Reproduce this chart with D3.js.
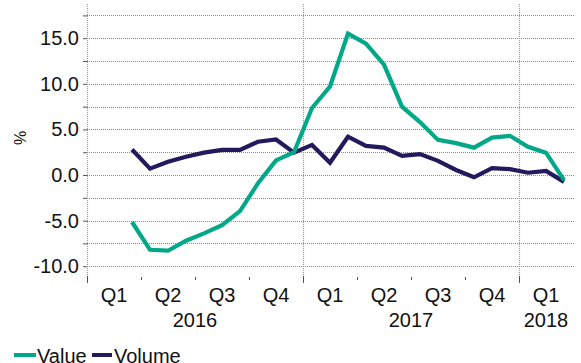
<!DOCTYPE html>
<html>
<head>
<meta charset="utf-8">
<script src="https://cdn.jsdelivr.net/npm/d3@7"></script>
<style>
  html, body { margin: 0; padding: 0; background: #fff; }
  svg { display: block; font-family: "Liberation Sans", Arial, sans-serif; }
</style>
</head>
<body>
<svg id="chart" width="581" height="363"></svg>
<script>
// Monthly growth rates, March 2016 to March 2018 (% year on year)
const months = ["2016-03","2016-04","2016-05","2016-06","2016-07","2016-08","2016-09","2016-10","2016-11","2016-12",
  "2017-01","2017-02","2017-03","2017-04","2017-05","2017-06","2017-07","2017-08","2017-09","2017-10","2017-11","2017-12",
  "2018-01","2018-02","2018-03"];
const valueSeries = [-5.15, -8.2, -8.3, -7.2, -6.4, -5.5, -3.95, -0.9, 1.6, 2.5,
  7.35, 9.7, 15.5, 14.4, 12.1, 7.5, 5.8, 3.85, 3.5, 3.0, 4.1, 4.3,
  3.1, 2.45, -0.55];
const volumeSeries = [2.8, 0.7, 1.45, 2.0, 2.45, 2.75, 2.75, 3.65, 3.9, 2.45,
  3.3, 1.35, 4.2, 3.2, 3.0, 2.1, 2.3, 1.55, 0.55, -0.25, 0.75, 0.65,
  0.25, 0.45, -0.75];
const quarterLabels = ["Q1","Q2","Q3","Q4","Q1","Q2","Q3","Q4","Q1"];
const yearLabels = ["2016","2017","2018"];
const yGridTicks = [-10, -7.5, -5, -2.5, 0, 2.5, 5, 7.5, 10, 12.5, 15, 17.5];
const colors = { Value: "#00a887", Volume: "#221a5c" };

const svg = d3.select("#chart");
const plotLeft = 87, plotRight = 575, plotTop = 4, plotBottom = 282;
const startYear = 2016;                         // axis starts at January 2016
const nMonths = 27;                             // through March 2018

// month index (0 = Jan 2016) -> x
const x = d3.scaleLinear().domain([0, nMonths]).range([plotLeft, plotLeft + nMonths * 18]);
const y = d3.scaleLinear().domain([-11.73, 18.75]).range([plotBottom, plotTop]);

function monthIndex(s) {
  const [yy, mm] = s.split("-").map(Number);
  return (yy - startYear) * 12 + (mm - 1);
}

// horizontal grid
svg.append("g").selectAll("line").data(yGridTicks).join("line")
  .attr("x1", plotLeft).attr("x2", plotRight)
  .attr("y1", d => Math.round(y(d)) + 0.5).attr("y2", d => Math.round(y(d)) + 0.5)
  .attr("stroke", "#8a8a8a").attr("stroke-width", 1).attr("stroke-dasharray", "1,1");

// y ticks and labels
const yAxis = d3.axisLeft(y).tickValues(yGridTicks).tickSize(4)
  .tickFormat(d => d % 5 === 0 ? d.toFixed(1) : "");
const gy = svg.append("g").attr("transform", `translate(${plotLeft},0)`).call(yAxis);
gy.select(".domain").remove();
gy.selectAll(".tick line").attr("stroke", "#555").attr("stroke-width", 1);
gy.selectAll(".tick text").attr("font-size", 20).attr("fill", "#111")
  .attr("x", -8).attr("font-family", "Liberation Sans, Arial, sans-serif");

// vertical dotted lines: left axis and year boundaries
const yearBounds = [0, 12, 24];
svg.append("g").selectAll("line").data(yearBounds).join("line")
  .attr("x1", d => x(d) + 0.5).attr("x2", d => x(d) + 0.5)
  .attr("y1", plotTop).attr("y2", plotBottom)
  .attr("stroke", "#9a9a9a").attr("stroke-width", 1.2).attr("stroke-dasharray", "1,1");

// x axis ticks (quarters small, years longer)
const quarterBounds = d3.range(3, nMonths, 3).filter(d => d % 12 !== 0);
svg.append("g").selectAll("line").data(quarterBounds).join("line")
  .attr("x1", d => x(d) + 0.5).attr("x2", d => x(d) + 0.5)
  .attr("y1", 277).attr("y2", 280)
  .attr("stroke", "#555").attr("stroke-width", 1);
svg.append("g").selectAll("line").data(yearBounds).join("line")
  .attr("x1", d => x(d) + 0.5).attr("x2", d => x(d) + 0.5)
  .attr("y1", 276).attr("y2", 283)
  .attr("stroke", "#555").attr("stroke-width", 1);

// quarter labels
svg.append("g").selectAll("text").data(quarterLabels).join("text")
  .attr("x", (d, i) => x(i * 3 + 1.5))
  .attr("y", 302)
  .attr("text-anchor", "middle").attr("font-size", 20).attr("fill", "#111")
  .text(d => d);

// year labels, centred on the quarters shown for each year
svg.append("g").selectAll("text").data(yearLabels).join("text")
  .attr("x", (d, i) => {
    const s = i * 12, e = Math.min(s + 12, nMonths);
    return x((s + e) / 2);
  })
  .attr("y", 327)
  .attr("text-anchor", "middle").attr("font-size", 20).attr("fill", "#111")
  .text(d => d);

// y axis title
svg.append("text")
  .attr("transform", "translate(26,138) rotate(-90)")
  .attr("text-anchor", "middle").attr("font-size", 16).attr("fill", "#111")
  .text("%");

// lines
const line = d3.line()
  .x(d => x(monthIndex(d.m) + 0.5))
  .y(d => y(d.v));
const seriesData = {
  Value: months.map((m, i) => ({ m, v: valueSeries[i] })),
  Volume: months.map((m, i) => ({ m, v: volumeSeries[i] }))
};
["Volume", "Value"].forEach(name => {
  svg.append("path").datum(seriesData[name])
    .attr("d", line)
    .attr("fill", "none")
    .attr("stroke", colors[name])
    .attr("stroke-width", 4.2)
    .attr("stroke-linejoin", "miter");
});

// legend
const legendItems = [
  { name: "Value", x1: 14, x2: 36, tx: 37 },
  { name: "Volume", x1: 92, x2: 112, tx: 114 }
];
const lg = svg.append("g");
legendItems.forEach(it => {
  lg.append("line").attr("x1", it.x1).attr("x2", it.x2)
    .attr("y1", 355).attr("y2", 355)
    .attr("stroke", colors[it.name]).attr("stroke-width", 4);
  lg.append("text").attr("x", it.tx).attr("y", 362.5)
    .attr("font-size", 20).attr("fill", "#111").text(it.name);
});
</script>
</body>
</html>
